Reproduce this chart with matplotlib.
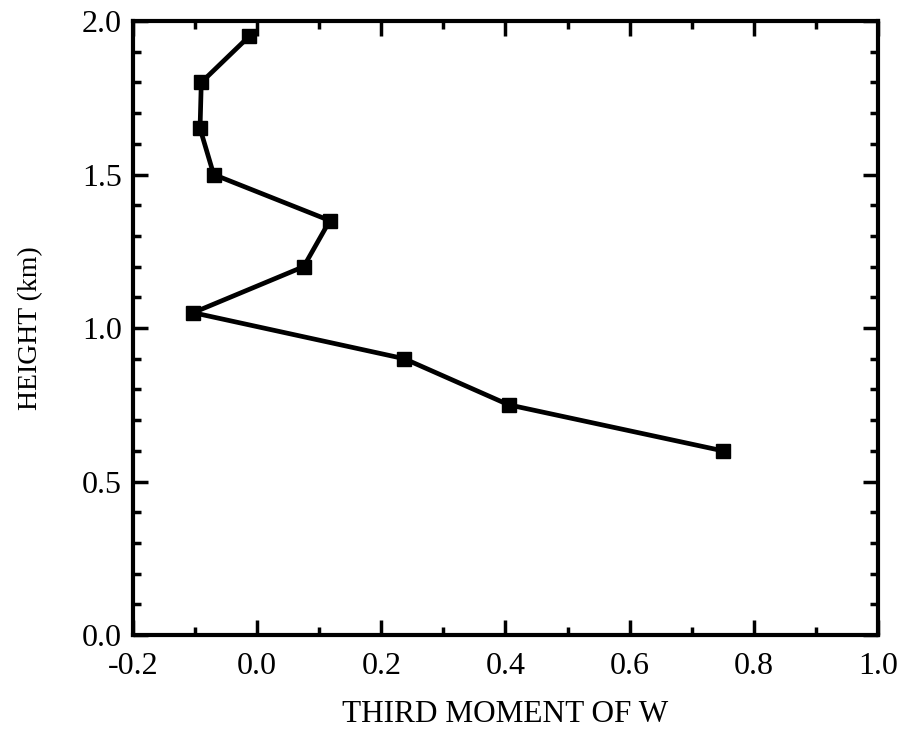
import matplotlib
matplotlib.use("Agg")
import matplotlib.pyplot as plt
from matplotlib.ticker import MultipleLocator, FormatStrFormatter

third_moment = [0.75, 0.405, 0.237, -0.103, 0.075, 0.117, -0.07, -0.092, -0.09, -0.013]
height_km = [0.60, 0.75, 0.90, 1.05, 1.20, 1.35, 1.50, 1.65, 1.80, 1.95]

plt.rcParams['font.family'] = ['Liberation Serif', 'DejaVu Serif']

fig = plt.figure(figsize=(8.98, 7.54), dpi=100)
ax = fig.add_axes([0.1481, 0.1578, 0.8296, 0.8143])

ax.plot(third_moment, height_km, color='black', linewidth=3.4,
        marker='s', markersize=10.5, markerfacecolor='black', markeredgecolor='black')

ax.set_xlim(-0.2, 1.0)
ax.set_ylim(0.0, 2.0)
ax.xaxis.set_major_locator(MultipleLocator(0.2))
ax.xaxis.set_minor_locator(MultipleLocator(0.1))
ax.yaxis.set_major_locator(MultipleLocator(0.5))
ax.yaxis.set_minor_locator(MultipleLocator(0.1))
ax.xaxis.set_major_formatter(FormatStrFormatter('%.1f'))
ax.yaxis.set_major_formatter(FormatStrFormatter('%.1f'))

ax.tick_params(which='both', direction='in', top=True, right=True, color='black')
ax.tick_params(which='major', length=11, width=2.5, labelsize=23)
ax.tick_params(axis='x', which='major', pad=12)
ax.tick_params(axis='y', which='major', pad=8)
ax.tick_params(which='minor', length=6, width=2.5)
for s in ax.spines.values():
    s.set_linewidth(3)

ax.set_xlabel('THIRD MOMENT OF W', fontsize=22.5, labelpad=14)
ax.set_ylabel('HEIGHT (km)', fontsize=20, labelpad=28)

fig.savefig('out.png', dpi=100)
